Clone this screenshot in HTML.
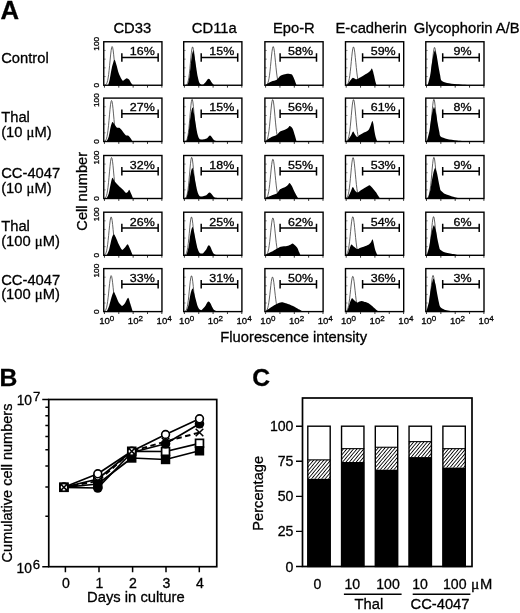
<!DOCTYPE html>
<html><head><meta charset="utf-8"><title>Figure</title>
<style>
html,body{margin:0;padding:0;background:#fff;}
svg{display:block;font-family:"Liberation Sans", sans-serif;fill:#000;}
text{stroke:#000;stroke-width:0.3px;}
</style></head><body>
<svg width="520" height="613" viewBox="0 0 520 613">
<rect width="520" height="613" fill="#fff"/>
<g id="panelA">
<g transform="translate(103.75 85.25)">
<path d="M1.36 -0.23 L1.86 -0.47 L2.36 -0.89 L2.86 -1.62 L3.36 -2.81 L3.86 -4.60 L4.36 -7.17 L4.86 -10.60 L5.36 -14.90 L5.86 -19.87 L6.36 -25.18 L6.86 -30.29 L7.36 -34.61 L7.86 -37.55 L8.36 -38.69 L8.86 -37.86 L9.36 -35.19 L9.86 -31.05 L10.36 -26.02 L10.86 -20.71 L11.36 -15.65 L11.86 -11.24 L12.36 -7.66 L12.86 -4.96 L13.36 -3.05 L13.86 -1.78 L14.36 -0.99 L14.86 -0.52 L15.36 -0.26" fill="none" stroke="#3a3a3a" stroke-width="0.8"/>
<path d="M4.40 0.00 C4.61 -0.80 5.52 -3.73 6.00 -6.00 C6.48 -8.27 7.39 -14.41 8.00 -17.00 C8.61 -19.59 10.00 -24.87 10.60 -25.40 C11.20 -25.93 11.91 -22.79 12.50 -21.00 C13.09 -19.21 14.17 -14.17 15.00 -12.00 C15.83 -9.83 17.95 -5.58 18.75 -4.75 C19.55 -3.92 20.43 -5.50 21.00 -5.80 C21.57 -6.10 22.40 -7.04 23.00 -7.00 C23.60 -6.96 24.90 -6.17 25.50 -5.50 C26.10 -4.83 26.98 -2.73 27.50 -2.00 C28.02 -1.27 29.15 -0.27 29.40 0.00 L29.40 0 L4.40 0 Z" fill="#000"/>
<rect x="0" y="-43.50" width="58.20" height="43.50" fill="none" stroke="#000" stroke-width="1.4"/>
<path d="M0.70 0.5V2.4 M15.05 0.5V2.4 M29.40 0.5V2.4 M43.75 0.5V2.4 M58.10 0.5V2.4" stroke="#000" stroke-width="0.8" fill="none"/>
<path d="M0 -8.70H2 M0 -17.40H2 M0 -26.10H2 M0 -34.80H2" stroke="#000" stroke-width="0.6" fill="none" opacity="0.7"/>
<path d="M18.10 -27.80H54.40 M18.10 -32.00V-23.60 M54.40 -32.00V-23.60" stroke="#000" stroke-width="1.5" fill="none"/>
<text transform="translate(38.55 -30.20) scale(1.085 1)" font-size="11.5" text-anchor="middle" stroke-width="0.4">16%</text>
</g>
<text transform="translate(99.10 43.80) rotate(-90) scale(1.13 1)" font-size="7.4" text-anchor="middle">100</text>
<text transform="translate(99.10 85.25) rotate(-90) scale(1.13 1)" font-size="7.4" text-anchor="middle">0</text>
<g transform="translate(183.70 85.25)">
<path d="M2.18 -0.23 L2.68 -0.48 L3.18 -0.94 L3.68 -1.75 L4.18 -3.07 L4.68 -5.10 L5.18 -8.00 L5.68 -11.85 L6.18 -16.60 L6.68 -21.96 L7.18 -27.46 L7.68 -32.44 L8.18 -36.21 L8.68 -38.19 L9.18 -38.06 L9.68 -35.84 L10.18 -31.89 L10.68 -26.81 L11.18 -21.30 L11.68 -15.99 L12.18 -11.34 L12.68 -7.60 L13.18 -4.81 L13.68 -2.88 L14.18 -1.63 L14.68 -0.87 L15.18 -0.44" fill="none" stroke="#3a3a3a" stroke-width="0.8"/>
<path d="M2.90 0.00 C3.09 -0.23 3.90 -0.44 4.30 -1.74 C4.70 -3.03 5.51 -7.00 5.90 -9.73 C6.29 -12.46 6.87 -19.41 7.20 -22.24 C7.53 -25.07 8.07 -29.26 8.40 -30.93 C8.73 -32.60 9.37 -35.07 9.70 -34.75 C10.03 -34.43 10.57 -30.49 10.90 -28.49 C11.23 -26.50 11.78 -22.47 12.20 -19.81 C12.62 -17.14 13.58 -10.84 14.05 -8.51 C14.52 -6.19 15.20 -3.45 15.70 -2.38 C16.20 -1.32 17.26 -0.71 17.80 -0.50 C18.34 -0.29 19.17 -0.38 19.78 -0.80 C20.39 -1.22 21.84 -2.94 22.39 -3.63 C22.95 -4.32 23.60 -5.54 23.96 -5.94 C24.32 -6.34 24.78 -6.64 25.10 -6.60 C25.42 -6.56 25.97 -6.09 26.34 -5.61 C26.70 -5.13 27.44 -3.65 27.86 -3.04 C28.27 -2.42 29.12 -1.39 29.47 -0.99 C29.82 -0.59 30.36 -0.13 30.50 0.00 L30.50 0 L2.90 0 Z" fill="#000"/>
<rect x="0" y="-43.50" width="58.20" height="43.50" fill="none" stroke="#000" stroke-width="1.4"/>
<path d="M0.70 0.5V2.4 M15.05 0.5V2.4 M29.40 0.5V2.4 M43.75 0.5V2.4 M58.10 0.5V2.4" stroke="#000" stroke-width="0.8" fill="none"/>
<path d="M0 -8.70H2 M0 -17.40H2 M0 -26.10H2 M0 -34.80H2" stroke="#000" stroke-width="0.6" fill="none" opacity="0.7"/>
<path d="M17.50 -27.80H54.00 M17.50 -32.00V-23.60 M54.00 -32.00V-23.60" stroke="#000" stroke-width="1.5" fill="none"/>
<text transform="translate(38.05 -30.20) scale(1.085 1)" font-size="11.5" text-anchor="middle" stroke-width="0.4">15%</text>
</g>
<g transform="translate(264.90 85.25)">
<path d="M1.10 -0.23 L1.60 -0.46 L2.10 -0.87 L2.60 -1.57 L3.10 -2.68 L3.60 -4.37 L4.10 -6.79 L4.60 -10.02 L5.10 -14.09 L5.60 -18.86 L6.10 -24.03 L6.60 -29.13 L7.10 -33.61 L7.60 -36.92 L8.10 -38.60 L8.60 -38.41 L9.10 -36.38 L9.60 -32.79 L10.10 -28.14 L10.60 -22.98 L11.10 -17.86 L11.60 -13.22 L12.10 -9.31 L12.60 -6.24 L13.10 -3.98 L13.60 -2.42 L14.10 -1.40 L14.60 -0.77 L15.10 -0.40" fill="none" stroke="#3a3a3a" stroke-width="0.8"/>
<path d="M0.80 0.00 C0.96 -0.16 1.23 -0.69 2.00 -1.20 C2.77 -1.71 5.29 -3.23 6.60 -3.80 C7.91 -4.37 10.65 -4.77 11.80 -5.50 C12.95 -6.23 14.37 -8.62 15.20 -9.30 C16.03 -9.98 17.08 -10.29 18.00 -10.60 C18.92 -10.91 21.17 -11.51 22.10 -11.60 C23.03 -11.69 24.35 -11.42 25.00 -11.30 C25.65 -11.18 26.47 -11.27 27.00 -10.70 C27.53 -10.13 28.37 -8.43 29.00 -7.00 C29.63 -5.57 31.34 -0.93 31.70 0.00 L31.70 0 L0.80 0 Z" fill="#000"/>
<rect x="0" y="-43.50" width="58.20" height="43.50" fill="none" stroke="#000" stroke-width="1.4"/>
<path d="M0.70 0.5V2.4 M15.05 0.5V2.4 M29.40 0.5V2.4 M43.75 0.5V2.4 M58.10 0.5V2.4" stroke="#000" stroke-width="0.8" fill="none"/>
<path d="M0 -8.70H2 M0 -17.40H2 M0 -26.10H2 M0 -34.80H2" stroke="#000" stroke-width="0.6" fill="none" opacity="0.7"/>
<path d="M15.20 -27.80H51.60 M15.20 -32.00V-23.60 M51.60 -32.00V-23.60" stroke="#000" stroke-width="1.5" fill="none"/>
<text transform="translate(35.70 -30.20) scale(1.085 1)" font-size="11.5" text-anchor="middle" stroke-width="0.4">58%</text>
</g>
<g transform="translate(345.50 85.25)">
<path d="M0.80 -0.23 L1.30 -0.46 L1.80 -0.86 L2.30 -1.55 L2.80 -2.66 L3.30 -4.33 L3.80 -6.73 L4.30 -9.93 L4.80 -13.97 L5.30 -18.69 L5.80 -23.81 L6.30 -28.86 L6.80 -33.31 L7.30 -36.59 L7.80 -38.25 L8.30 -38.06 L8.80 -36.05 L9.30 -32.50 L9.80 -27.88 L10.30 -22.77 L10.80 -17.70 L11.30 -13.10 L11.80 -9.22 L12.30 -6.18 L12.80 -3.95 L13.30 -2.40 L13.80 -1.38 L14.30 -0.76 L14.80 -0.40" fill="none" stroke="#3a3a3a" stroke-width="0.8"/>
<path d="M0.80 0.00 C1.03 -0.20 1.94 -0.83 2.50 -1.50 C3.06 -2.17 4.36 -4.19 5.00 -5.00 C5.64 -5.81 6.70 -7.40 7.30 -7.60 C7.90 -7.80 8.98 -6.73 9.50 -6.50 C10.02 -6.27 10.60 -5.77 11.20 -5.90 C11.80 -6.03 13.19 -7.05 14.00 -7.50 C14.81 -7.95 16.17 -8.63 17.30 -9.30 C18.43 -9.97 21.50 -11.81 22.50 -12.50 C23.50 -13.19 24.29 -13.93 24.80 -14.50 C25.31 -15.07 25.94 -16.87 26.30 -16.80 C26.66 -16.73 27.21 -14.92 27.50 -14.00 C27.79 -13.08 28.19 -11.23 28.50 -9.90 C28.81 -8.57 29.47 -5.32 29.80 -4.00 C30.13 -2.68 30.84 -0.53 31.00 0.00 L31.00 0 L0.80 0 Z" fill="#000"/>
<rect x="0" y="-43.50" width="58.20" height="43.50" fill="none" stroke="#000" stroke-width="1.4"/>
<path d="M0.70 0.5V2.4 M15.05 0.5V2.4 M29.40 0.5V2.4 M43.75 0.5V2.4 M58.10 0.5V2.4" stroke="#000" stroke-width="0.8" fill="none"/>
<path d="M0 -8.70H2 M0 -17.40H2 M0 -26.10H2 M0 -34.80H2" stroke="#000" stroke-width="0.6" fill="none" opacity="0.7"/>
<path d="M17.10 -27.80H53.75 M17.10 -32.00V-23.60 M53.75 -32.00V-23.60" stroke="#000" stroke-width="1.5" fill="none"/>
<text transform="translate(37.72 -30.20) scale(1.085 1)" font-size="11.5" text-anchor="middle" stroke-width="0.4">59%</text>
</g>
<g transform="translate(425.80 85.25)">
<path d="M2.03 -0.23 L2.53 -0.47 L3.03 -0.93 L3.53 -1.73 L4.03 -3.03 L4.53 -5.03 L5.03 -7.89 L5.53 -11.70 L6.03 -16.38 L6.53 -21.68 L7.03 -27.10 L7.53 -32.01 L8.03 -35.74 L8.53 -37.69 L9.03 -37.56 L9.53 -35.37 L10.03 -31.47 L10.53 -26.46 L11.03 -21.02 L11.53 -15.78 L12.03 -11.19 L12.53 -7.50 L13.03 -4.75 L13.53 -2.84 L14.03 -1.61 L14.53 -0.86 L15.03 -0.43" fill="none" stroke="#3a3a3a" stroke-width="0.8"/>
<path d="M1.90 0.00 C2.23 -1.30 3.91 -7.27 4.40 -9.73 C4.89 -12.19 5.22 -15.92 5.60 -18.42 C5.98 -20.92 6.78 -26.32 7.25 -28.49 C7.72 -30.67 8.59 -34.75 9.10 -34.75 C9.61 -34.75 10.61 -30.67 11.10 -28.49 C11.59 -26.32 12.31 -20.92 12.75 -18.42 C13.19 -15.92 14.02 -11.55 14.40 -9.73 C14.78 -7.91 14.69 -5.75 15.60 -4.75 C16.51 -3.75 19.16 -2.75 21.25 -2.25 C23.34 -1.75 27.95 -1.30 31.25 -1.00 C34.55 -0.70 44.03 -0.13 46.00 0.00 L46.00 0 L1.90 0 Z" fill="#000"/>
<rect x="0" y="-43.50" width="58.20" height="43.50" fill="none" stroke="#000" stroke-width="1.4"/>
<path d="M0.70 0.5V2.4 M15.05 0.5V2.4 M29.40 0.5V2.4 M43.75 0.5V2.4 M58.10 0.5V2.4" stroke="#000" stroke-width="0.8" fill="none"/>
<path d="M0 -8.70H2 M0 -17.40H2 M0 -26.10H2 M0 -34.80H2" stroke="#000" stroke-width="0.6" fill="none" opacity="0.7"/>
<path d="M16.90 -27.80H53.40 M16.90 -32.00V-23.60 M53.40 -32.00V-23.60" stroke="#000" stroke-width="1.5" fill="none"/>
<text transform="translate(36.65 -30.20) scale(1.085 1)" font-size="11.5" text-anchor="middle" stroke-width="0.4">9%</text>
</g>
<g transform="translate(103.75 141.50)">
<path d="M0.76 -0.25 L1.26 -0.49 L1.76 -0.95 L2.26 -1.72 L2.76 -2.97 L3.26 -4.88 L3.76 -7.59 L4.26 -11.23 L4.76 -15.78 L5.26 -21.05 L5.76 -26.67 L6.26 -32.09 L6.76 -36.67 L7.26 -39.78 L7.76 -40.99 L8.26 -40.11 L8.76 -37.28 L9.26 -32.90 L9.76 -27.57 L10.26 -21.94 L10.76 -16.58 L11.26 -11.90 L11.76 -8.11 L12.26 -5.25 L12.76 -3.23 L13.26 -1.88 L13.76 -1.04 L14.26 -0.55 L14.76 -0.28" fill="none" stroke="#3a3a3a" stroke-width="0.8"/>
<path d="M2.80 0.00 C3.09 -0.67 4.44 -3.00 5.00 -5.00 C5.56 -7.00 6.51 -13.07 7.00 -15.00 C7.49 -16.93 8.18 -19.17 8.65 -19.50 C9.12 -19.83 9.92 -18.23 10.50 -17.50 C11.08 -16.77 12.27 -14.53 13.00 -14.00 C13.73 -13.47 15.20 -14.03 16.00 -13.50 C16.80 -12.97 18.20 -10.97 19.00 -10.00 C19.80 -9.03 21.24 -6.77 22.00 -6.20 C22.76 -5.63 24.03 -6.13 24.70 -5.70 C25.37 -5.27 26.43 -3.76 27.00 -3.00 C27.57 -2.24 28.73 -0.40 29.00 0.00 L29.00 0 L2.80 0 Z" fill="#000"/>
<rect x="0" y="-43.40" width="58.20" height="43.40" fill="none" stroke="#000" stroke-width="1.4"/>
<path d="M0.70 0.5V2.4 M15.05 0.5V2.4 M29.40 0.5V2.4 M43.75 0.5V2.4 M58.10 0.5V2.4" stroke="#000" stroke-width="0.8" fill="none"/>
<path d="M0 -8.68H2 M0 -17.36H2 M0 -26.04H2 M0 -34.72H2" stroke="#000" stroke-width="0.6" fill="none" opacity="0.7"/>
<path d="M18.10 -27.70H54.40 M18.10 -31.90V-23.50 M54.40 -31.90V-23.50" stroke="#000" stroke-width="1.5" fill="none"/>
<text transform="translate(38.55 -30.10) scale(1.085 1)" font-size="11.5" text-anchor="middle" stroke-width="0.4">27%</text>
</g>
<text transform="translate(99.10 100.15) rotate(-90) scale(1.13 1)" font-size="7.4" text-anchor="middle">100</text>
<text transform="translate(99.10 141.50) rotate(-90) scale(1.13 1)" font-size="7.4" text-anchor="middle">0</text>
<g transform="translate(183.70 141.50)">
<path d="M1.68 -0.25 L2.18 -0.53 L2.68 -1.04 L3.18 -1.93 L3.68 -3.38 L4.18 -5.62 L4.68 -8.81 L5.18 -13.06 L5.68 -18.28 L6.18 -24.19 L6.68 -30.25 L7.18 -35.73 L7.68 -39.89 L8.18 -42.07 L8.68 -41.93 L9.18 -39.48 L9.68 -35.13 L10.18 -29.53 L10.68 -23.46 L11.18 -17.61 L11.68 -12.49 L12.18 -8.37 L12.68 -5.30 L13.18 -3.17 L13.68 -1.79 L14.18 -0.96 L14.68 -0.48" fill="none" stroke="#3a3a3a" stroke-width="0.8"/>
<path d="M1.92 0.00 C2.11 -0.23 2.91 -0.43 3.32 -1.70 C3.73 -2.97 4.60 -6.85 5.01 -9.52 C5.42 -12.19 6.03 -18.99 6.38 -21.76 C6.72 -24.53 7.29 -28.63 7.63 -30.26 C7.98 -31.89 8.65 -34.32 9.00 -34.00 C9.35 -33.68 9.91 -29.83 10.26 -27.88 C10.61 -25.93 11.18 -21.99 11.62 -19.38 C12.07 -16.77 13.08 -10.48 13.57 -8.33 C14.06 -6.18 14.83 -4.08 15.30 -3.24 C15.77 -2.40 16.38 -2.13 17.10 -2.00 C17.82 -1.87 19.85 -2.13 20.70 -2.30 C21.55 -2.47 22.86 -2.84 23.45 -3.25 C24.04 -3.65 24.72 -4.96 25.10 -5.31 C25.48 -5.66 25.97 -5.94 26.30 -5.90 C26.63 -5.86 27.21 -5.44 27.60 -5.02 C27.99 -4.59 28.76 -3.26 29.20 -2.71 C29.64 -2.16 30.26 -1.25 30.90 -0.89 C31.54 -0.52 33.59 -0.12 34.00 0.00 L34.00 0 L1.92 0 Z" fill="#000"/>
<rect x="0" y="-43.40" width="58.20" height="43.40" fill="none" stroke="#000" stroke-width="1.4"/>
<path d="M0.70 0.5V2.4 M15.05 0.5V2.4 M29.40 0.5V2.4 M43.75 0.5V2.4 M58.10 0.5V2.4" stroke="#000" stroke-width="0.8" fill="none"/>
<path d="M0 -8.68H2 M0 -17.36H2 M0 -26.04H2 M0 -34.72H2" stroke="#000" stroke-width="0.6" fill="none" opacity="0.7"/>
<path d="M17.50 -27.70H54.00 M17.50 -31.90V-23.50 M54.00 -31.90V-23.50" stroke="#000" stroke-width="1.5" fill="none"/>
<text transform="translate(38.05 -30.10) scale(1.085 1)" font-size="11.5" text-anchor="middle" stroke-width="0.4">15%</text>
</g>
<g transform="translate(264.90 141.50)">
<path d="M0.60 -0.25 L1.10 -0.50 L1.60 -0.94 L2.10 -1.70 L2.60 -2.91 L3.10 -4.74 L3.60 -7.36 L4.10 -10.87 L4.60 -15.28 L5.10 -20.44 L5.60 -26.04 L6.10 -31.57 L6.60 -36.43 L7.10 -40.02 L7.60 -41.83 L8.10 -41.63 L8.60 -39.43 L9.10 -35.54 L9.60 -30.50 L10.10 -24.91 L10.60 -19.36 L11.10 -14.33 L11.60 -10.09 L12.10 -6.76 L12.60 -4.32 L13.10 -2.62 L13.60 -1.51 L14.10 -0.83 L14.60 -0.44" fill="none" stroke="#3a3a3a" stroke-width="0.8"/>
<path d="M0.80 0.00 C0.96 -0.20 1.23 -0.90 2.00 -1.50 C2.77 -2.10 5.29 -3.82 6.60 -4.50 C7.91 -5.18 10.65 -5.87 11.80 -6.60 C12.95 -7.33 14.05 -9.28 15.20 -10.00 C16.35 -10.72 19.36 -11.53 20.40 -12.00 C21.44 -12.47 22.43 -13.02 23.00 -13.50 C23.57 -13.98 24.23 -15.47 24.70 -15.60 C25.17 -15.73 26.03 -15.01 26.50 -14.50 C26.97 -13.99 27.73 -12.93 28.20 -11.80 C28.67 -10.67 29.53 -7.57 30.00 -6.00 C30.47 -4.43 31.47 -0.80 31.70 0.00 L31.70 0 L0.80 0 Z" fill="#000"/>
<rect x="0" y="-43.40" width="58.20" height="43.40" fill="none" stroke="#000" stroke-width="1.4"/>
<path d="M0.70 0.5V2.4 M15.05 0.5V2.4 M29.40 0.5V2.4 M43.75 0.5V2.4 M58.10 0.5V2.4" stroke="#000" stroke-width="0.8" fill="none"/>
<path d="M0 -8.68H2 M0 -17.36H2 M0 -26.04H2 M0 -34.72H2" stroke="#000" stroke-width="0.6" fill="none" opacity="0.7"/>
<path d="M15.20 -27.70H51.60 M15.20 -31.90V-23.50 M51.60 -31.90V-23.50" stroke="#000" stroke-width="1.5" fill="none"/>
<text transform="translate(35.70 -30.10) scale(1.085 1)" font-size="11.5" text-anchor="middle" stroke-width="0.4">56%</text>
</g>
<g transform="translate(345.50 141.50)">
<path d="M0.80 -0.25 L1.30 -0.50 L1.80 -0.94 L2.30 -1.70 L2.80 -2.91 L3.30 -4.74 L3.80 -7.36 L4.30 -10.87 L4.80 -15.28 L5.30 -20.44 L5.80 -26.04 L6.30 -31.57 L6.80 -36.43 L7.30 -40.02 L7.80 -41.83 L8.30 -41.63 L8.80 -39.43 L9.30 -35.54 L9.80 -30.50 L10.30 -24.91 L10.80 -19.36 L11.30 -14.33 L11.80 -10.09 L12.30 -6.76 L12.80 -4.32 L13.30 -2.62 L13.80 -1.51 L14.30 -0.83 L14.80 -0.44" fill="none" stroke="#3a3a3a" stroke-width="0.8"/>
<path d="M0.80 0.00 C1.03 -0.20 1.87 -0.70 2.50 -1.50 C3.13 -2.30 4.82 -4.87 5.50 -6.00 C6.18 -7.13 7.07 -9.87 7.60 -10.00 C8.13 -10.13 8.94 -7.73 9.50 -7.00 C10.06 -6.27 11.20 -4.57 11.80 -4.50 C12.40 -4.43 13.27 -5.99 14.00 -6.50 C14.73 -7.01 16.17 -7.71 17.30 -8.30 C18.43 -8.89 21.47 -9.94 22.50 -10.90 C23.53 -11.86 24.43 -14.23 25.00 -15.50 C25.57 -16.77 26.40 -20.20 26.80 -20.40 C27.20 -20.60 27.71 -18.39 28.00 -17.00 C28.29 -15.61 28.69 -11.73 29.00 -10.00 C29.31 -8.27 29.94 -5.33 30.30 -4.00 C30.66 -2.67 31.51 -0.53 31.70 0.00 L31.70 0 L0.80 0 Z" fill="#000"/>
<rect x="0" y="-43.40" width="58.20" height="43.40" fill="none" stroke="#000" stroke-width="1.4"/>
<path d="M0.70 0.5V2.4 M15.05 0.5V2.4 M29.40 0.5V2.4 M43.75 0.5V2.4 M58.10 0.5V2.4" stroke="#000" stroke-width="0.8" fill="none"/>
<path d="M0 -8.68H2 M0 -17.36H2 M0 -26.04H2 M0 -34.72H2" stroke="#000" stroke-width="0.6" fill="none" opacity="0.7"/>
<path d="M17.10 -27.70H53.75 M17.10 -31.90V-23.50 M53.75 -31.90V-23.50" stroke="#000" stroke-width="1.5" fill="none"/>
<text transform="translate(37.72 -30.10) scale(1.085 1)" font-size="11.5" text-anchor="middle" stroke-width="0.4">61%</text>
</g>
<g transform="translate(425.80 141.50)">
<path d="M1.38 -0.25 L1.88 -0.53 L2.38 -1.04 L2.88 -1.93 L3.38 -3.38 L3.88 -5.62 L4.38 -8.81 L4.88 -13.06 L5.38 -18.28 L5.88 -24.19 L6.38 -30.25 L6.88 -35.73 L7.38 -39.89 L7.88 -42.07 L8.38 -41.93 L8.88 -39.48 L9.38 -35.13 L9.88 -29.53 L10.38 -23.46 L10.88 -17.61 L11.38 -12.49 L11.88 -8.37 L12.38 -5.30 L12.88 -3.17 L13.38 -1.79 L13.88 -0.96 L14.38 -0.48" fill="none" stroke="#3a3a3a" stroke-width="0.8"/>
<path d="M1.00 0.00 C1.33 -1.28 3.01 -7.20 3.50 -9.63 C3.99 -12.06 4.32 -15.76 4.70 -18.23 C5.08 -20.71 5.88 -26.05 6.35 -28.21 C6.82 -30.36 7.69 -34.40 8.20 -34.40 C8.71 -34.40 9.71 -30.36 10.20 -28.21 C10.69 -26.05 11.41 -20.71 11.85 -18.23 C12.29 -15.76 13.11 -11.41 13.50 -9.63 C13.89 -7.85 13.77 -5.85 14.80 -4.90 C15.83 -3.95 19.06 -3.02 21.25 -2.50 C23.44 -1.98 28.22 -1.33 31.25 -1.00 C34.28 -0.67 42.30 -0.13 44.00 0.00 L44.00 0 L1.00 0 Z" fill="#000"/>
<rect x="0" y="-43.40" width="58.20" height="43.40" fill="none" stroke="#000" stroke-width="1.4"/>
<path d="M0.70 0.5V2.4 M15.05 0.5V2.4 M29.40 0.5V2.4 M43.75 0.5V2.4 M58.10 0.5V2.4" stroke="#000" stroke-width="0.8" fill="none"/>
<path d="M0 -8.68H2 M0 -17.36H2 M0 -26.04H2 M0 -34.72H2" stroke="#000" stroke-width="0.6" fill="none" opacity="0.7"/>
<path d="M16.90 -27.70H53.40 M16.90 -31.90V-23.50 M53.40 -31.90V-23.50" stroke="#000" stroke-width="1.5" fill="none"/>
<text transform="translate(36.65 -30.10) scale(1.085 1)" font-size="11.5" text-anchor="middle" stroke-width="0.4">8%</text>
</g>
<g transform="translate(103.75 198.50)">
<path d="M0.76 -0.25 L1.26 -0.49 L1.76 -0.95 L2.26 -1.72 L2.76 -2.97 L3.26 -4.88 L3.76 -7.59 L4.26 -11.23 L4.76 -15.78 L5.26 -21.05 L5.76 -26.67 L6.26 -32.09 L6.76 -36.67 L7.26 -39.78 L7.76 -40.99 L8.26 -40.11 L8.76 -37.28 L9.26 -32.90 L9.76 -27.57 L10.26 -21.94 L10.76 -16.58 L11.26 -11.90 L11.76 -8.11 L12.26 -5.25 L12.76 -3.23 L13.26 -1.88 L13.76 -1.04 L14.26 -0.55 L14.76 -0.28" fill="none" stroke="#3a3a3a" stroke-width="0.8"/>
<path d="M2.80 0.00 C3.09 -0.67 4.44 -3.00 5.00 -5.00 C5.56 -7.00 6.51 -12.89 7.00 -15.00 C7.49 -17.11 8.12 -20.53 8.65 -20.80 C9.18 -21.07 10.13 -18.09 11.00 -17.00 C11.87 -15.91 14.13 -13.67 15.20 -12.60 C16.27 -11.53 18.09 -9.92 19.00 -9.00 C19.91 -8.08 21.33 -6.03 22.00 -5.70 C22.67 -5.37 23.52 -6.11 24.00 -6.50 C24.48 -6.89 25.13 -8.87 25.60 -8.60 C26.07 -8.33 26.99 -5.65 27.50 -4.50 C28.01 -3.35 29.15 -0.60 29.40 0.00 L29.40 0 L2.80 0 Z" fill="#000"/>
<rect x="0" y="-43.00" width="58.20" height="43.00" fill="none" stroke="#000" stroke-width="1.4"/>
<path d="M0.70 0.5V2.4 M15.05 0.5V2.4 M29.40 0.5V2.4 M43.75 0.5V2.4 M58.10 0.5V2.4" stroke="#000" stroke-width="0.8" fill="none"/>
<path d="M0 -8.60H2 M0 -17.20H2 M0 -25.80H2 M0 -34.40H2" stroke="#000" stroke-width="0.6" fill="none" opacity="0.7"/>
<path d="M18.10 -27.30H54.40 M18.10 -31.50V-23.10 M54.40 -31.50V-23.10" stroke="#000" stroke-width="1.5" fill="none"/>
<text transform="translate(38.55 -29.70) scale(1.085 1)" font-size="11.5" text-anchor="middle" stroke-width="0.4">32%</text>
</g>
<text transform="translate(99.10 157.55) rotate(-90) scale(1.13 1)" font-size="7.4" text-anchor="middle">100</text>
<text transform="translate(99.10 198.50) rotate(-90) scale(1.13 1)" font-size="7.4" text-anchor="middle">0</text>
<g transform="translate(183.70 198.50)">
<path d="M1.28 -0.25 L1.78 -0.51 L2.28 -1.01 L2.78 -1.88 L3.28 -3.30 L3.78 -5.48 L4.28 -8.59 L4.78 -12.73 L5.28 -17.83 L5.78 -23.59 L6.28 -29.50 L6.78 -34.84 L7.28 -38.90 L7.78 -41.02 L8.28 -40.88 L8.78 -38.50 L9.28 -34.26 L9.78 -28.80 L10.28 -22.88 L10.78 -17.17 L11.28 -12.18 L11.78 -8.16 L12.28 -5.17 L12.78 -3.09 L13.28 -1.75 L13.78 -0.93 L14.28 -0.47" fill="none" stroke="#3a3a3a" stroke-width="0.8"/>
<path d="M1.44 0.00 C1.63 -0.20 2.42 -0.39 2.84 -1.53 C3.26 -2.67 4.19 -6.16 4.62 -8.57 C5.05 -10.98 5.68 -17.10 6.05 -19.58 C6.42 -22.07 7.00 -25.77 7.37 -27.23 C7.74 -28.70 8.43 -30.89 8.80 -30.60 C9.17 -30.31 9.75 -26.85 10.12 -25.09 C10.49 -23.34 11.09 -19.79 11.55 -17.44 C12.01 -15.10 13.07 -9.42 13.59 -7.50 C14.10 -5.58 14.96 -3.77 15.40 -3.04 C15.84 -2.30 16.36 -2.10 16.90 -2.00 C17.44 -1.90 18.70 -2.13 19.46 -2.30 C20.22 -2.47 21.95 -2.84 22.62 -3.25 C23.30 -3.65 24.08 -4.96 24.52 -5.31 C24.96 -5.66 25.52 -5.94 25.90 -5.90 C26.28 -5.86 26.95 -5.44 27.39 -5.02 C27.84 -4.59 28.73 -3.26 29.23 -2.71 C29.74 -2.16 30.09 -1.25 31.19 -0.89 C32.29 -0.52 36.66 -0.12 37.50 0.00 L37.50 0 L1.44 0 Z" fill="#000"/>
<rect x="0" y="-43.00" width="58.20" height="43.00" fill="none" stroke="#000" stroke-width="1.4"/>
<path d="M0.70 0.5V2.4 M15.05 0.5V2.4 M29.40 0.5V2.4 M43.75 0.5V2.4 M58.10 0.5V2.4" stroke="#000" stroke-width="0.8" fill="none"/>
<path d="M0 -8.60H2 M0 -17.20H2 M0 -25.80H2 M0 -34.40H2" stroke="#000" stroke-width="0.6" fill="none" opacity="0.7"/>
<path d="M17.50 -27.30H54.00 M17.50 -31.50V-23.10 M54.00 -31.50V-23.10" stroke="#000" stroke-width="1.5" fill="none"/>
<text transform="translate(38.05 -29.70) scale(1.085 1)" font-size="11.5" text-anchor="middle" stroke-width="0.4">18%</text>
</g>
<g transform="translate(264.90 198.50)">
<path d="M0.80 -0.23 L1.30 -0.47 L1.80 -0.88 L2.30 -1.59 L2.80 -2.72 L3.30 -4.43 L3.80 -6.88 L4.30 -10.17 L4.80 -14.29 L5.30 -19.13 L5.80 -24.37 L6.30 -29.54 L6.80 -34.09 L7.30 -37.44 L7.80 -39.15 L8.30 -38.95 L8.80 -36.89 L9.30 -33.26 L9.80 -28.54 L10.30 -23.31 L10.80 -18.12 L11.30 -13.41 L11.80 -9.44 L12.30 -6.33 L12.80 -4.04 L13.30 -2.45 L13.80 -1.42 L14.30 -0.78 L14.80 -0.41" fill="none" stroke="#3a3a3a" stroke-width="0.8"/>
<path d="M0.80 0.00 C0.96 -0.16 1.23 -0.80 2.00 -1.20 C2.77 -1.60 5.29 -2.49 6.60 -3.00 C7.91 -3.51 10.65 -4.16 11.80 -5.00 C12.95 -5.84 14.05 -8.42 15.20 -9.30 C16.35 -10.18 19.36 -11.04 20.40 -11.60 C21.44 -12.16 22.43 -12.97 23.00 -13.50 C23.57 -14.03 24.17 -15.73 24.70 -15.60 C25.23 -15.47 26.43 -13.51 27.00 -12.50 C27.57 -11.49 28.47 -9.13 29.00 -8.00 C29.53 -6.87 30.41 -5.07 31.00 -4.00 C31.59 -2.93 33.08 -0.53 33.40 0.00 L33.40 0 L0.80 0 Z" fill="#000"/>
<rect x="0" y="-43.00" width="58.20" height="43.00" fill="none" stroke="#000" stroke-width="1.4"/>
<path d="M0.70 0.5V2.4 M15.05 0.5V2.4 M29.40 0.5V2.4 M43.75 0.5V2.4 M58.10 0.5V2.4" stroke="#000" stroke-width="0.8" fill="none"/>
<path d="M0 -8.60H2 M0 -17.20H2 M0 -25.80H2 M0 -34.40H2" stroke="#000" stroke-width="0.6" fill="none" opacity="0.7"/>
<path d="M15.20 -27.30H51.60 M15.20 -31.50V-23.10 M51.60 -31.50V-23.10" stroke="#000" stroke-width="1.5" fill="none"/>
<text transform="translate(35.70 -29.70) scale(1.085 1)" font-size="11.5" text-anchor="middle" stroke-width="0.4">55%</text>
</g>
<g transform="translate(345.50 198.50)">
<path d="M0.40 -0.25 L0.90 -0.49 L1.40 -0.92 L1.90 -1.66 L2.40 -2.84 L2.90 -4.63 L3.40 -7.18 L3.90 -10.61 L4.40 -14.91 L4.90 -19.96 L5.40 -25.42 L5.90 -30.82 L6.40 -35.56 L6.90 -39.06 L7.40 -40.84 L7.90 -40.64 L8.40 -38.49 L8.90 -34.70 L9.40 -29.77 L9.90 -24.32 L10.40 -18.90 L10.90 -13.99 L11.40 -9.85 L11.90 -6.60 L12.40 -4.21 L12.90 -2.56 L13.40 -1.48 L13.90 -0.81 L14.40 -0.43" fill="none" stroke="#3a3a3a" stroke-width="0.8"/>
<path d="M0.80 0.00 C1.03 -0.20 1.90 -0.57 2.50 -1.50 C3.10 -2.43 4.66 -5.65 5.30 -7.00 C5.94 -8.35 6.74 -11.47 7.30 -11.60 C7.86 -11.73 8.86 -8.76 9.50 -8.00 C10.14 -7.24 11.37 -5.90 12.10 -5.90 C12.83 -5.90 14.19 -7.47 15.00 -8.00 C15.81 -8.53 17.33 -9.37 18.20 -9.90 C19.07 -10.43 20.70 -11.55 21.50 -12.00 C22.30 -12.45 23.47 -13.50 24.20 -13.30 C24.93 -13.10 26.19 -11.42 27.00 -10.50 C27.81 -9.58 29.57 -7.40 30.30 -6.40 C31.03 -5.40 31.93 -3.85 32.50 -3.00 C33.07 -2.15 34.32 -0.40 34.60 0.00 L34.60 0 L0.80 0 Z" fill="#000"/>
<rect x="0" y="-43.00" width="58.20" height="43.00" fill="none" stroke="#000" stroke-width="1.4"/>
<path d="M0.70 0.5V2.4 M15.05 0.5V2.4 M29.40 0.5V2.4 M43.75 0.5V2.4 M58.10 0.5V2.4" stroke="#000" stroke-width="0.8" fill="none"/>
<path d="M0 -8.60H2 M0 -17.20H2 M0 -25.80H2 M0 -34.40H2" stroke="#000" stroke-width="0.6" fill="none" opacity="0.7"/>
<path d="M17.10 -27.30H53.75 M17.10 -31.50V-23.10 M53.75 -31.50V-23.10" stroke="#000" stroke-width="1.5" fill="none"/>
<text transform="translate(37.72 -29.70) scale(1.085 1)" font-size="11.5" text-anchor="middle" stroke-width="0.4">53%</text>
</g>
<g transform="translate(425.80 198.50)">
<path d="M1.38 -0.25 L1.88 -0.51 L2.38 -1.01 L2.88 -1.88 L3.38 -3.30 L3.88 -5.48 L4.38 -8.59 L4.88 -12.73 L5.38 -17.83 L5.88 -23.59 L6.38 -29.50 L6.88 -34.84 L7.38 -38.90 L7.88 -41.02 L8.38 -40.88 L8.88 -38.50 L9.38 -34.26 L9.88 -28.80 L10.38 -22.88 L10.88 -17.17 L11.38 -12.18 L11.88 -8.16 L12.38 -5.17 L12.88 -3.09 L13.38 -1.75 L13.88 -0.93 L14.38 -0.47" fill="none" stroke="#3a3a3a" stroke-width="0.8"/>
<path d="M2.10 0.00 C2.43 -1.14 4.11 -6.41 4.60 -8.57 C5.09 -10.73 5.42 -14.01 5.80 -16.22 C6.18 -18.42 6.98 -23.17 7.45 -25.09 C7.92 -27.01 8.79 -30.60 9.30 -30.60 C9.81 -30.60 10.81 -27.01 11.30 -25.09 C11.79 -23.17 12.51 -18.42 12.95 -16.22 C13.39 -14.01 14.33 -9.65 14.60 -8.57 C14.87 -7.49 14.36 -8.66 15.00 -8.10 C15.64 -7.54 18.07 -5.15 19.40 -4.40 C20.73 -3.65 23.59 -2.97 25.00 -2.50 C26.41 -2.03 28.83 -1.23 30.00 -0.90 C31.17 -0.57 33.25 -0.12 33.75 0.00 L33.75 0 L2.10 0 Z" fill="#000"/>
<rect x="0" y="-43.00" width="58.20" height="43.00" fill="none" stroke="#000" stroke-width="1.4"/>
<path d="M0.70 0.5V2.4 M15.05 0.5V2.4 M29.40 0.5V2.4 M43.75 0.5V2.4 M58.10 0.5V2.4" stroke="#000" stroke-width="0.8" fill="none"/>
<path d="M0 -8.60H2 M0 -17.20H2 M0 -25.80H2 M0 -34.40H2" stroke="#000" stroke-width="0.6" fill="none" opacity="0.7"/>
<path d="M16.90 -27.30H53.40 M16.90 -31.50V-23.10 M53.40 -31.50V-23.10" stroke="#000" stroke-width="1.5" fill="none"/>
<text transform="translate(36.65 -29.70) scale(1.085 1)" font-size="11.5" text-anchor="middle" stroke-width="0.4">9%</text>
</g>
<g transform="translate(103.75 255.30)">
<path d="M0.36 -0.23 L0.86 -0.46 L1.36 -0.89 L1.86 -1.61 L2.36 -2.78 L2.86 -4.57 L3.36 -7.11 L3.86 -10.52 L4.36 -14.78 L4.86 -19.72 L5.36 -24.98 L5.86 -30.06 L6.36 -34.34 L6.86 -37.26 L7.36 -38.39 L7.86 -37.57 L8.36 -34.91 L8.86 -30.81 L9.36 -25.82 L9.86 -20.55 L10.36 -15.53 L10.86 -11.15 L11.36 -7.60 L11.86 -4.92 L12.36 -3.02 L12.86 -1.77 L13.36 -0.98 L13.86 -0.52 L14.36 -0.26" fill="none" stroke="#3a3a3a" stroke-width="0.8"/>
<path d="M3.00 0.00 C3.33 -0.80 4.83 -3.73 5.50 -6.00 C6.17 -8.27 7.40 -15.00 8.00 -17.00 C8.60 -19.00 9.47 -20.87 10.00 -21.00 C10.53 -21.13 11.33 -19.33 12.00 -18.00 C12.67 -16.67 14.16 -12.67 15.00 -11.00 C15.84 -9.33 17.50 -5.97 18.30 -5.50 C19.10 -5.03 20.25 -6.77 21.00 -7.50 C21.75 -8.23 23.23 -11.07 23.90 -11.00 C24.57 -10.93 25.32 -8.47 26.00 -7.00 C26.68 -5.53 28.60 -0.93 29.00 0.00 L29.00 0 L3.00 0 Z" fill="#000"/>
<rect x="0" y="-43.10" width="58.20" height="43.10" fill="none" stroke="#000" stroke-width="1.4"/>
<path d="M0.70 0.5V2.4 M15.05 0.5V2.4 M29.40 0.5V2.4 M43.75 0.5V2.4 M58.10 0.5V2.4" stroke="#000" stroke-width="0.8" fill="none"/>
<path d="M0 -8.62H2 M0 -17.24H2 M0 -25.86H2 M0 -34.48H2" stroke="#000" stroke-width="0.6" fill="none" opacity="0.7"/>
<path d="M18.10 -27.40H54.40 M18.10 -31.60V-23.20 M54.40 -31.60V-23.20" stroke="#000" stroke-width="1.5" fill="none"/>
<text transform="translate(38.55 -29.80) scale(1.085 1)" font-size="11.5" text-anchor="middle" stroke-width="0.4">26%</text>
</g>
<text transform="translate(99.10 214.25) rotate(-90) scale(1.13 1)" font-size="7.4" text-anchor="middle">100</text>
<text transform="translate(99.10 255.30) rotate(-90) scale(1.13 1)" font-size="7.4" text-anchor="middle">0</text>
<g transform="translate(183.70 255.30)">
<path d="M1.08 -0.23 L1.58 -0.48 L2.08 -0.94 L2.58 -1.75 L3.08 -3.07 L3.58 -5.10 L4.08 -8.00 L4.58 -11.85 L5.08 -16.60 L5.58 -21.96 L6.08 -27.46 L6.58 -32.44 L7.08 -36.21 L7.58 -38.19 L8.08 -38.06 L8.58 -35.84 L9.08 -31.89 L9.58 -26.81 L10.08 -21.30 L10.58 -15.99 L11.08 -11.34 L11.58 -7.60 L12.08 -4.81 L12.58 -2.88 L13.08 -1.63 L13.58 -0.87 L14.08 -0.44" fill="none" stroke="#3a3a3a" stroke-width="0.8"/>
<path d="M1.64 0.00 C1.83 -0.19 2.62 -0.36 3.04 -1.42 C3.46 -2.48 4.39 -5.72 4.82 -7.95 C5.25 -10.19 5.88 -15.87 6.25 -18.18 C6.62 -20.49 7.20 -23.91 7.57 -25.28 C7.94 -26.64 8.63 -28.67 9.00 -28.40 C9.37 -28.13 9.95 -24.92 10.32 -23.29 C10.69 -21.66 11.29 -18.37 11.75 -16.19 C12.21 -14.01 13.27 -8.75 13.79 -6.96 C14.30 -5.17 15.16 -3.47 15.60 -2.78 C16.04 -2.10 16.59 -1.89 17.10 -1.80 C17.61 -1.71 18.73 -1.61 19.42 -2.10 C20.11 -2.59 21.69 -4.58 22.31 -5.50 C22.92 -6.42 23.64 -8.40 24.04 -9.00 C24.44 -9.60 24.95 -10.07 25.30 -10.00 C25.65 -9.93 26.26 -9.22 26.66 -8.50 C27.07 -7.78 27.88 -5.53 28.34 -4.60 C28.81 -3.67 29.51 -2.11 30.13 -1.50 C30.75 -0.89 32.62 -0.20 33.00 0.00 L33.00 0 L1.64 0 Z" fill="#000"/>
<rect x="0" y="-43.10" width="58.20" height="43.10" fill="none" stroke="#000" stroke-width="1.4"/>
<path d="M0.70 0.5V2.4 M15.05 0.5V2.4 M29.40 0.5V2.4 M43.75 0.5V2.4 M58.10 0.5V2.4" stroke="#000" stroke-width="0.8" fill="none"/>
<path d="M0 -8.62H2 M0 -17.24H2 M0 -25.86H2 M0 -34.48H2" stroke="#000" stroke-width="0.6" fill="none" opacity="0.7"/>
<path d="M17.50 -27.40H54.00 M17.50 -31.60V-23.20 M54.00 -31.60V-23.20" stroke="#000" stroke-width="1.5" fill="none"/>
<text transform="translate(38.05 -29.80) scale(1.085 1)" font-size="11.5" text-anchor="middle" stroke-width="0.4">25%</text>
</g>
<g transform="translate(264.90 255.30)">
<path d="M0.80 -0.22 L1.30 -0.44 L1.80 -0.84 L2.30 -1.51 L2.80 -2.59 L3.30 -4.22 L3.80 -6.55 L4.30 -9.68 L4.80 -13.60 L5.30 -18.20 L5.80 -23.19 L6.30 -28.11 L6.80 -32.44 L7.30 -35.63 L7.80 -37.25 L8.30 -37.07 L8.80 -35.11 L9.30 -31.65 L9.80 -27.16 L10.30 -22.18 L10.80 -17.24 L11.30 -12.76 L11.80 -8.98 L12.30 -6.02 L12.80 -3.84 L13.30 -2.33 L13.80 -1.35 L14.30 -0.74 L14.80 -0.39" fill="none" stroke="#3a3a3a" stroke-width="0.8"/>
<path d="M0.80 0.00 C0.96 -0.16 1.23 -0.73 2.00 -1.20 C2.77 -1.67 5.29 -2.78 6.60 -3.50 C7.91 -4.22 10.55 -5.92 11.80 -6.60 C13.05 -7.28 14.63 -8.25 16.00 -8.60 C17.37 -8.95 20.83 -8.95 22.10 -9.20 C23.37 -9.45 24.75 -10.15 25.50 -10.50 C26.25 -10.85 27.10 -11.87 27.70 -11.80 C28.30 -11.73 29.36 -10.59 30.00 -10.00 C30.64 -9.41 31.93 -8.33 32.50 -7.40 C33.07 -6.47 33.89 -3.99 34.30 -3.00 C34.71 -2.01 35.43 -0.40 35.60 0.00 L35.60 0 L0.80 0 Z" fill="#000"/>
<rect x="0" y="-43.10" width="58.20" height="43.10" fill="none" stroke="#000" stroke-width="1.4"/>
<path d="M0.70 0.5V2.4 M15.05 0.5V2.4 M29.40 0.5V2.4 M43.75 0.5V2.4 M58.10 0.5V2.4" stroke="#000" stroke-width="0.8" fill="none"/>
<path d="M0 -8.62H2 M0 -17.24H2 M0 -25.86H2 M0 -34.48H2" stroke="#000" stroke-width="0.6" fill="none" opacity="0.7"/>
<path d="M15.20 -27.40H51.60 M15.20 -31.60V-23.20 M51.60 -31.60V-23.20" stroke="#000" stroke-width="1.5" fill="none"/>
<text transform="translate(35.70 -29.80) scale(1.085 1)" font-size="11.5" text-anchor="middle" stroke-width="0.4">62%</text>
</g>
<g transform="translate(345.50 255.30)">
<path d="M0.10 -0.23 L0.60 -0.46 L1.10 -0.87 L1.60 -1.56 L2.10 -2.67 L2.60 -4.36 L3.10 -6.76 L3.60 -9.99 L4.10 -14.04 L4.60 -18.79 L5.10 -23.93 L5.60 -29.02 L6.10 -33.48 L6.60 -36.78 L7.10 -38.45 L7.60 -38.26 L8.10 -36.24 L8.60 -32.67 L9.10 -28.03 L9.60 -22.89 L10.10 -17.80 L10.60 -13.17 L11.10 -9.27 L11.60 -6.22 L12.10 -3.97 L12.60 -2.41 L13.10 -1.39 L13.60 -0.77 L14.10 -0.40" fill="none" stroke="#3a3a3a" stroke-width="0.8"/>
<path d="M0.80 0.00 C1.03 -0.27 2.01 -0.93 2.50 -2.00 C2.99 -3.07 4.03 -6.81 4.50 -8.00 C4.97 -9.19 5.47 -10.83 6.00 -10.90 C6.53 -10.97 7.73 -9.13 8.50 -8.50 C9.27 -7.87 10.93 -6.33 11.80 -6.20 C12.67 -6.07 14.15 -7.18 15.00 -7.50 C15.85 -7.82 17.08 -8.15 18.20 -8.60 C19.32 -9.05 22.43 -10.31 23.40 -10.90 C24.37 -11.49 25.02 -12.32 25.50 -13.00 C25.98 -13.68 26.64 -16.13 27.00 -16.00 C27.36 -15.87 27.88 -13.25 28.20 -12.00 C28.52 -10.75 29.08 -7.80 29.40 -6.60 C29.72 -5.40 30.25 -3.88 30.60 -3.00 C30.95 -2.12 31.81 -0.40 32.00 0.00 L32.00 0 L0.80 0 Z" fill="#000"/>
<rect x="0" y="-43.10" width="58.20" height="43.10" fill="none" stroke="#000" stroke-width="1.4"/>
<path d="M0.70 0.5V2.4 M15.05 0.5V2.4 M29.40 0.5V2.4 M43.75 0.5V2.4 M58.10 0.5V2.4" stroke="#000" stroke-width="0.8" fill="none"/>
<path d="M0 -8.62H2 M0 -17.24H2 M0 -25.86H2 M0 -34.48H2" stroke="#000" stroke-width="0.6" fill="none" opacity="0.7"/>
<path d="M17.10 -27.40H53.75 M17.10 -31.60V-23.20 M53.75 -31.60V-23.20" stroke="#000" stroke-width="1.5" fill="none"/>
<text transform="translate(37.72 -29.80) scale(1.085 1)" font-size="11.5" text-anchor="middle" stroke-width="0.4">54%</text>
</g>
<g transform="translate(425.80 255.30)">
<path d="M1.03 -0.23 L1.53 -0.48 L2.03 -0.95 L2.53 -1.76 L3.03 -3.10 L3.53 -5.15 L4.03 -8.07 L4.53 -11.96 L5.03 -16.75 L5.53 -22.16 L6.03 -27.71 L6.53 -32.73 L7.03 -36.54 L7.53 -38.54 L8.03 -38.41 L8.53 -36.17 L9.03 -32.18 L9.53 -27.06 L10.03 -21.49 L10.53 -16.13 L11.03 -11.44 L11.53 -7.67 L12.03 -4.86 L12.53 -2.91 L13.03 -1.64 L13.53 -0.88 L14.03 -0.44" fill="none" stroke="#3a3a3a" stroke-width="0.8"/>
<path d="M0.90 0.00 C1.23 -1.12 2.91 -6.28 3.40 -8.40 C3.89 -10.52 4.22 -13.74 4.60 -15.90 C4.98 -18.06 5.78 -22.72 6.25 -24.60 C6.72 -26.48 7.59 -30.00 8.10 -30.00 C8.61 -30.00 9.61 -26.48 10.10 -24.60 C10.59 -22.72 11.31 -18.06 11.75 -15.90 C12.19 -13.74 13.03 -9.79 13.40 -8.40 C13.77 -7.01 13.79 -6.21 14.50 -5.50 C15.21 -4.79 17.02 -3.67 18.75 -3.10 C20.48 -2.53 25.67 -1.66 27.50 -1.25 C29.33 -0.84 31.83 -0.17 32.50 0.00 L32.50 0 L0.90 0 Z" fill="#000"/>
<rect x="0" y="-43.10" width="58.20" height="43.10" fill="none" stroke="#000" stroke-width="1.4"/>
<path d="M0.70 0.5V2.4 M15.05 0.5V2.4 M29.40 0.5V2.4 M43.75 0.5V2.4 M58.10 0.5V2.4" stroke="#000" stroke-width="0.8" fill="none"/>
<path d="M0 -8.62H2 M0 -17.24H2 M0 -25.86H2 M0 -34.48H2" stroke="#000" stroke-width="0.6" fill="none" opacity="0.7"/>
<path d="M16.90 -27.40H53.40 M16.90 -31.60V-23.20 M53.40 -31.60V-23.20" stroke="#000" stroke-width="1.5" fill="none"/>
<text transform="translate(36.65 -29.80) scale(1.085 1)" font-size="11.5" text-anchor="middle" stroke-width="0.4">6%</text>
</g>
<g transform="translate(103.75 311.60)">
<path d="M0.36 -0.22 L0.86 -0.43 L1.36 -0.83 L1.86 -1.51 L2.36 -2.61 L2.86 -4.28 L3.36 -6.67 L3.86 -9.86 L4.36 -13.86 L4.86 -18.49 L5.36 -23.42 L5.86 -28.18 L6.36 -32.19 L6.86 -34.93 L7.36 -35.99 L7.86 -35.22 L8.36 -32.73 L8.86 -28.88 L9.36 -24.21 L9.86 -19.27 L10.36 -14.56 L10.86 -10.45 L11.36 -7.12 L11.86 -4.61 L12.36 -2.83 L12.86 -1.66 L13.36 -0.92 L13.86 -0.48 L14.36 -0.24" fill="none" stroke="#3a3a3a" stroke-width="0.8"/>
<path d="M3.00 0.00 C3.33 -0.80 4.83 -4.00 5.50 -6.00 C6.17 -8.00 7.40 -13.20 8.00 -15.00 C8.60 -16.80 9.47 -19.37 10.00 -19.50 C10.53 -19.63 11.33 -17.40 12.00 -16.00 C12.67 -14.60 14.16 -10.37 15.00 -9.00 C15.84 -7.63 17.50 -5.83 18.30 -5.70 C19.10 -5.57 20.19 -6.92 21.00 -8.00 C21.81 -9.08 23.67 -13.80 24.40 -13.80 C25.13 -13.80 25.89 -9.84 26.50 -8.00 C27.11 -6.16 28.67 -1.07 29.00 0.00 L29.00 0 L3.00 0 Z" fill="#000"/>
<rect x="0" y="-43.00" width="58.20" height="43.00" fill="none" stroke="#000" stroke-width="1.4"/>
<path d="M0.70 0.5V2.4 M15.05 0.5V2.4 M29.40 0.5V2.4 M43.75 0.5V2.4 M58.10 0.5V2.4" stroke="#000" stroke-width="0.8" fill="none"/>
<path d="M0 -8.60H2 M0 -17.20H2 M0 -25.80H2 M0 -34.40H2" stroke="#000" stroke-width="0.6" fill="none" opacity="0.7"/>
<path d="M18.10 -27.30H54.40 M18.10 -31.50V-23.10 M54.40 -31.50V-23.10" stroke="#000" stroke-width="1.5" fill="none"/>
<text transform="translate(38.55 -29.70) scale(1.085 1)" font-size="11.5" text-anchor="middle" stroke-width="0.4">33%</text>
</g>
<text transform="translate(99.10 270.65) rotate(-90) scale(1.13 1)" font-size="7.4" text-anchor="middle">100</text>
<text transform="translate(99.10 311.60) rotate(-90) scale(1.13 1)" font-size="7.4" text-anchor="middle">0</text>
<g transform="translate(183.70 311.60)">
<path d="M1.08 -0.21 L1.58 -0.45 L2.08 -0.88 L2.58 -1.63 L3.08 -2.87 L3.58 -4.77 L4.08 -7.48 L4.58 -11.08 L5.08 -15.52 L5.58 -20.53 L6.08 -25.67 L6.58 -30.33 L7.08 -33.85 L7.58 -35.70 L8.08 -35.58 L8.58 -33.51 L9.08 -29.81 L9.58 -25.07 L10.08 -19.91 L10.58 -14.95 L11.08 -10.60 L11.58 -7.10 L12.08 -4.50 L12.58 -2.69 L13.08 -1.52 L13.58 -0.81 L14.08 -0.41" fill="none" stroke="#3a3a3a" stroke-width="0.8"/>
<path d="M1.53 0.00 C1.71 -0.15 2.50 -0.29 2.93 -1.15 C3.36 -2.01 4.31 -4.63 4.74 -6.44 C5.18 -8.25 5.83 -12.85 6.20 -14.72 C6.57 -16.59 7.17 -19.37 7.54 -20.47 C7.92 -21.57 8.63 -23.21 9.00 -23.00 C9.37 -22.79 9.97 -20.18 10.34 -18.86 C10.72 -17.54 11.33 -14.87 11.80 -13.11 C12.27 -11.35 13.35 -7.08 13.87 -5.63 C14.39 -4.19 15.29 -2.83 15.72 -2.28 C16.15 -1.73 16.76 -1.56 17.10 -1.50 C17.44 -1.44 17.68 -1.27 18.28 -1.80 C18.88 -2.33 20.88 -4.54 21.58 -5.50 C22.28 -6.46 23.10 -8.40 23.56 -9.00 C24.02 -9.60 24.60 -10.07 25.00 -10.00 C25.40 -9.93 26.10 -9.22 26.56 -8.50 C27.02 -7.78 27.95 -5.53 28.48 -4.60 C29.01 -3.67 29.78 -2.11 30.52 -1.50 C31.26 -0.89 33.54 -0.20 34.00 0.00 L34.00 0 L1.53 0 Z" fill="#000"/>
<rect x="0" y="-43.00" width="58.20" height="43.00" fill="none" stroke="#000" stroke-width="1.4"/>
<path d="M0.70 0.5V2.4 M15.05 0.5V2.4 M29.40 0.5V2.4 M43.75 0.5V2.4 M58.10 0.5V2.4" stroke="#000" stroke-width="0.8" fill="none"/>
<path d="M0 -8.60H2 M0 -17.20H2 M0 -25.80H2 M0 -34.40H2" stroke="#000" stroke-width="0.6" fill="none" opacity="0.7"/>
<path d="M17.50 -27.30H54.00 M17.50 -31.50V-23.10 M54.00 -31.50V-23.10" stroke="#000" stroke-width="1.5" fill="none"/>
<text transform="translate(38.05 -29.70) scale(1.085 1)" font-size="11.5" text-anchor="middle" stroke-width="0.4">31%</text>
</g>
<g transform="translate(264.90 311.60)">
<path d="M0.40 -0.21 L0.90 -0.41 L1.40 -0.78 L1.90 -1.40 L2.40 -2.39 L2.90 -3.90 L3.40 -6.06 L3.90 -8.95 L4.40 -12.58 L4.90 -16.84 L5.40 -21.45 L5.90 -26.01 L6.40 -30.01 L6.90 -32.97 L7.40 -34.46 L7.90 -34.29 L8.40 -32.48 L8.90 -29.28 L9.40 -25.12 L9.90 -20.52 L10.40 -15.95 L10.90 -11.80 L11.40 -8.31 L11.90 -5.57 L12.40 -3.55 L12.90 -2.16 L13.40 -1.25 L13.90 -0.69 L14.40 -0.36" fill="none" stroke="#3a3a3a" stroke-width="0.8"/>
<path d="M0.80 0.00 C0.96 -0.20 1.23 -0.87 2.00 -1.50 C2.77 -2.13 5.29 -3.89 6.60 -4.70 C7.91 -5.51 10.75 -7.05 11.80 -7.60 C12.85 -8.15 13.81 -8.57 14.50 -8.80 C15.19 -9.03 16.27 -9.33 17.00 -9.30 C17.73 -9.27 19.08 -8.87 20.00 -8.60 C20.92 -8.33 22.90 -7.67 23.90 -7.30 C24.90 -6.93 26.58 -6.21 27.50 -5.80 C28.42 -5.39 29.87 -4.71 30.80 -4.20 C31.73 -3.69 33.58 -2.56 34.50 -2.00 C35.42 -1.44 37.27 -0.27 37.70 0.00 L37.70 0 L0.80 0 Z" fill="#000"/>
<rect x="0" y="-43.00" width="58.20" height="43.00" fill="none" stroke="#000" stroke-width="1.4"/>
<path d="M0.70 0.5V2.4 M15.05 0.5V2.4 M29.40 0.5V2.4 M43.75 0.5V2.4 M58.10 0.5V2.4" stroke="#000" stroke-width="0.8" fill="none"/>
<path d="M0 -8.60H2 M0 -17.20H2 M0 -25.80H2 M0 -34.40H2" stroke="#000" stroke-width="0.6" fill="none" opacity="0.7"/>
<path d="M15.20 -27.30H51.60 M15.20 -31.50V-23.10 M51.60 -31.50V-23.10" stroke="#000" stroke-width="1.5" fill="none"/>
<text transform="translate(35.70 -29.70) scale(1.085 1)" font-size="11.5" text-anchor="middle" stroke-width="0.4">50%</text>
</g>
<g transform="translate(345.50 311.60)">
<path d="M0.10 -0.21 L0.60 -0.42 L1.10 -0.79 L1.60 -1.43 L2.10 -2.44 L2.60 -3.98 L3.10 -6.18 L3.60 -9.13 L4.10 -12.84 L4.60 -17.18 L5.10 -21.89 L5.60 -26.53 L6.10 -30.62 L6.60 -33.63 L7.10 -35.16 L7.60 -34.99 L8.10 -33.14 L8.60 -29.87 L9.10 -25.63 L9.60 -20.93 L10.10 -16.27 L10.60 -12.04 L11.10 -8.48 L11.60 -5.68 L12.10 -3.63 L12.60 -2.20 L13.10 -1.27 L13.60 -0.70 L14.10 -0.37" fill="none" stroke="#3a3a3a" stroke-width="0.8"/>
<path d="M0.80 0.00 C1.03 -0.33 1.97 -1.17 2.50 -2.50 C3.03 -3.83 4.25 -8.56 4.80 -10.00 C5.35 -11.44 6.04 -13.17 6.60 -13.30 C7.16 -13.43 8.31 -11.57 9.00 -11.00 C9.69 -10.43 11.13 -9.13 11.80 -9.00 C12.47 -8.87 13.39 -9.77 14.00 -10.00 C14.61 -10.23 15.60 -10.77 16.40 -10.70 C17.20 -10.63 19.07 -9.85 20.00 -9.50 C20.93 -9.15 22.60 -8.57 23.40 -8.10 C24.20 -7.63 25.32 -6.57 26.00 -6.00 C26.68 -5.43 27.83 -4.37 28.50 -3.80 C29.17 -3.23 30.31 -2.21 31.00 -1.70 C31.69 -1.19 33.34 -0.23 33.70 0.00 L33.70 0 L0.80 0 Z" fill="#000"/>
<rect x="0" y="-43.00" width="58.20" height="43.00" fill="none" stroke="#000" stroke-width="1.4"/>
<path d="M0.70 0.5V2.4 M15.05 0.5V2.4 M29.40 0.5V2.4 M43.75 0.5V2.4 M58.10 0.5V2.4" stroke="#000" stroke-width="0.8" fill="none"/>
<path d="M0 -8.60H2 M0 -17.20H2 M0 -25.80H2 M0 -34.40H2" stroke="#000" stroke-width="0.6" fill="none" opacity="0.7"/>
<path d="M17.10 -27.30H53.75 M17.10 -31.50V-23.10 M53.75 -31.50V-23.10" stroke="#000" stroke-width="1.5" fill="none"/>
<text transform="translate(37.72 -29.70) scale(1.085 1)" font-size="11.5" text-anchor="middle" stroke-width="0.4">36%</text>
</g>
<g transform="translate(425.80 311.60)">
<path d="M0.53 -0.22 L1.03 -0.45 L1.53 -0.89 L2.03 -1.65 L2.53 -2.90 L3.03 -4.81 L3.53 -7.55 L4.03 -11.19 L4.53 -15.67 L5.03 -20.73 L5.53 -25.92 L6.03 -30.62 L6.53 -34.18 L7.03 -36.05 L7.53 -35.93 L8.03 -33.83 L8.53 -30.10 L9.03 -25.31 L9.53 -20.11 L10.03 -15.09 L10.53 -10.70 L11.03 -7.17 L11.53 -4.54 L12.03 -2.72 L12.53 -1.54 L13.03 -0.82 L13.53 -0.41" fill="none" stroke="#3a3a3a" stroke-width="0.8"/>
<path d="M0.55 0.00 C0.88 -1.23 2.56 -6.91 3.05 -9.24 C3.54 -11.57 3.87 -15.11 4.25 -17.49 C4.63 -19.87 5.43 -24.99 5.90 -27.06 C6.37 -29.13 7.24 -33.00 7.75 -33.00 C8.26 -33.00 9.26 -29.13 9.75 -27.06 C10.24 -24.99 10.96 -19.87 11.40 -17.49 C11.84 -15.11 12.64 -10.97 13.05 -9.24 C13.46 -7.51 13.74 -5.48 14.50 -4.50 C15.26 -3.52 17.02 -2.50 18.75 -1.90 C20.48 -1.30 26.33 -0.25 27.50 0.00 L27.50 0 L0.55 0 Z" fill="#000"/>
<rect x="0" y="-43.00" width="58.20" height="43.00" fill="none" stroke="#000" stroke-width="1.4"/>
<path d="M0.70 0.5V2.4 M15.05 0.5V2.4 M29.40 0.5V2.4 M43.75 0.5V2.4 M58.10 0.5V2.4" stroke="#000" stroke-width="0.8" fill="none"/>
<path d="M0 -8.60H2 M0 -17.20H2 M0 -25.80H2 M0 -34.40H2" stroke="#000" stroke-width="0.6" fill="none" opacity="0.7"/>
<path d="M16.90 -27.30H53.40 M16.90 -31.50V-23.10 M53.40 -31.50V-23.10" stroke="#000" stroke-width="1.5" fill="none"/>
<text transform="translate(36.65 -29.70) scale(1.085 1)" font-size="11.5" text-anchor="middle" stroke-width="0.4">3%</text>
</g>
<text x="99.15" y="323.9" font-size="9.6"><tspan x="99.15">10</tspan><tspan dy="-3.3" font-size="8">0</tspan></text>
<text x="127.85" y="323.9" font-size="9.6"><tspan x="127.85">10</tspan><tspan dy="-3.3" font-size="8">2</tspan></text>
<text x="156.55" y="323.9" font-size="9.6"><tspan x="156.55">10</tspan><tspan dy="-3.3" font-size="8">4</tspan></text>
<text x="179.10" y="323.9" font-size="9.6"><tspan x="179.10">10</tspan><tspan dy="-3.3" font-size="8">0</tspan></text>
<text x="207.80" y="323.9" font-size="9.6"><tspan x="207.80">10</tspan><tspan dy="-3.3" font-size="8">2</tspan></text>
<text x="236.50" y="323.9" font-size="9.6"><tspan x="236.50">10</tspan><tspan dy="-3.3" font-size="8">4</tspan></text>
<text x="260.30" y="323.9" font-size="9.6"><tspan x="260.30">10</tspan><tspan dy="-3.3" font-size="8">0</tspan></text>
<text x="289.00" y="323.9" font-size="9.6"><tspan x="289.00">10</tspan><tspan dy="-3.3" font-size="8">2</tspan></text>
<text x="317.70" y="323.9" font-size="9.6"><tspan x="317.70">10</tspan><tspan dy="-3.3" font-size="8">4</tspan></text>
<text x="340.90" y="323.9" font-size="9.6"><tspan x="340.90">10</tspan><tspan dy="-3.3" font-size="8">0</tspan></text>
<text x="369.60" y="323.9" font-size="9.6"><tspan x="369.60">10</tspan><tspan dy="-3.3" font-size="8">2</tspan></text>
<text x="398.30" y="323.9" font-size="9.6"><tspan x="398.30">10</tspan><tspan dy="-3.3" font-size="8">4</tspan></text>
<text x="421.20" y="323.9" font-size="9.6"><tspan x="421.20">10</tspan><tspan dy="-3.3" font-size="8">0</tspan></text>
<text x="449.90" y="323.9" font-size="9.6"><tspan x="449.90">10</tspan><tspan dy="-3.3" font-size="8">2</tspan></text>
<text x="478.60" y="323.9" font-size="9.6"><tspan x="478.60">10</tspan><tspan dy="-3.3" font-size="8">4</tspan></text>
</g>
<text x="132.30" y="33" font-size="14.75" text-anchor="middle">CD33</text>
<text x="214.25" y="33" font-size="14.75" text-anchor="middle">CD11a</text>
<text x="293.85" y="33" font-size="14.75" text-anchor="middle">Epo-R</text>
<text x="371.20" y="33" font-size="14.75" text-anchor="middle">E-cadherin</text>
<text x="466.70" y="33" font-size="14.75" text-anchor="middle">Glycophorin A/B</text>
<text x="1.2" y="62.7" font-size="14.75">Control</text>
<text x="1.2" y="122.0" font-size="14.75">Thal</text>
<text x="1.2" y="137.4" font-size="14.75">(10 <tspan font-family="'Liberation Serif', serif">μ</tspan>M)</text>
<text x="1.2" y="177.8" font-size="14.75">CC-4047</text>
<text x="1.2" y="192.8" font-size="14.75">(10 <tspan font-family="'Liberation Serif', serif">μ</tspan>M)</text>
<text x="1.2" y="230.9" font-size="14.75">Thal</text>
<text x="1.2" y="245.9" font-size="14.75">(100 <tspan font-family="'Liberation Serif', serif">μ</tspan>M)</text>
<text x="1.2" y="284.7" font-size="14.75">CC-4047</text>
<text x="1.2" y="299.2" font-size="14.75">(100 <tspan font-family="'Liberation Serif', serif">μ</tspan>M)</text>
<text transform="translate(86.5 191.3) rotate(-90)" font-size="14.6" text-anchor="middle">Cell number</text>
<text x="293.7" y="341.5" font-size="14.75" text-anchor="middle">Fluorescence intensity</text>
<text x="0.5" y="19" font-size="25.7" font-weight="bold">A</text>
<text x="-0.4" y="386" font-size="24.7" font-weight="bold">B</text>
<text x="252.2" y="386" font-size="24.7" font-weight="bold">C</text>
<g id="panelB">
<rect x="48.75" y="399.50" width="168.00" height="167.20" fill="none" stroke="#000" stroke-width="1.7"/>
<path d="M45.35 516.37H48.75 M45.35 486.93H48.75 M45.35 466.04H48.75 M45.35 449.83H48.75 M45.35 436.59H48.75 M45.35 425.40H48.75 M45.35 415.70H48.75 M45.35 407.15H48.75 M42.25 399.50H48.75 M42.25 566.70H48.75 M65.40 566.70V572.30 M99.00 566.70V572.30 M132.60 566.70V572.30 M166.00 566.70V572.30 M199.30 566.70V572.30" stroke="#000" stroke-width="1.5" fill="none"/>
<text x="65.90" y="587.8" font-size="14.1" text-anchor="middle">0</text>
<text x="99.30" y="587.8" font-size="14.1" text-anchor="middle">1</text>
<text x="133.00" y="587.8" font-size="14.1" text-anchor="middle">2</text>
<text x="166.40" y="587.8" font-size="14.1" text-anchor="middle">3</text>
<text x="200.00" y="587.8" font-size="14.1" text-anchor="middle">4</text>
<text x="135.9" y="602.3" font-size="14.75" text-anchor="middle">Days in culture</text>
<text transform="translate(12.2 483) rotate(-90)" font-size="14.5" text-anchor="middle">Cumulative cell numbers</text>
<text x="16.7" y="405.2" font-size="13.8">10<tspan dx="0.9" dy="-4.3" font-size="13.2">7</tspan></text>
<text x="16.6" y="572.9" font-size="13.8">10<tspan dx="0.9" dy="-4.3" font-size="13.2">6</tspan></text>
<polyline points="63.90,487.30 97.80,484.00 131.75,458.00 165.55,459.50 199.50,450.80" fill="none" stroke="#000" stroke-width="1.7" stroke-linejoin="round"/>
<polyline points="63.90,487.30 97.80,479.00 131.75,451.30 165.55,451.50 199.50,443.30" fill="none" stroke="#000" stroke-width="1.7" stroke-linejoin="round"/>
<polyline points="63.90,487.30 97.80,488.00 131.75,452.50 165.55,443.80 199.50,423.80" fill="none" stroke="#000" stroke-width="1.7" stroke-linejoin="round"/>
<polyline points="63.90,487.30 97.80,473.80 131.75,451.30 165.55,434.50 199.50,418.80" fill="none" stroke="#000" stroke-width="1.7" stroke-linejoin="round"/>
<polyline points="63.90,487.30 97.80,481.00 131.75,451.30 165.55,441.50 199.50,432.50" fill="none" stroke="#000" stroke-width="2" stroke-dasharray="5.5 3.5"/>
<rect x="59.95" y="483.35" width="7.9" height="7.9" fill="#fff" stroke="#000" stroke-width="1.7"/>
<rect x="93.85" y="475.05" width="7.9" height="7.9" fill="#fff" stroke="#000" stroke-width="1.7"/>
<rect x="127.80" y="447.35" width="7.9" height="7.9" fill="#fff" stroke="#000" stroke-width="1.7"/>
<rect x="161.60" y="447.55" width="7.9" height="7.9" fill="#fff" stroke="#000" stroke-width="1.7"/>
<rect x="195.55" y="439.35" width="7.9" height="7.9" fill="#fff" stroke="#000" stroke-width="1.7"/>
<rect x="59.20" y="482.60" width="9.4" height="9.4" fill="#000"/>
<rect x="93.10" y="479.30" width="9.4" height="9.4" fill="#000"/>
<rect x="127.05" y="453.30" width="9.4" height="9.4" fill="#000"/>
<rect x="160.85" y="454.80" width="9.4" height="9.4" fill="#000"/>
<rect x="194.80" y="446.10" width="9.4" height="9.4" fill="#000"/>
<circle cx="63.90" cy="487.30" r="4.8" fill="#000"/>
<circle cx="97.80" cy="488.00" r="4.8" fill="#000"/>
<circle cx="131.75" cy="452.50" r="4.8" fill="#000"/>
<circle cx="165.55" cy="443.80" r="4.8" fill="#000"/>
<circle cx="199.50" cy="423.80" r="4.8" fill="#000"/>
<circle cx="63.90" cy="487.30" r="3.9" fill="#fff" stroke="#000" stroke-width="1.6"/>
<circle cx="97.80" cy="473.80" r="3.9" fill="#fff" stroke="#000" stroke-width="1.6"/>
<circle cx="131.75" cy="451.30" r="3.9" fill="#fff" stroke="#000" stroke-width="1.6"/>
<circle cx="165.55" cy="434.50" r="3.9" fill="#fff" stroke="#000" stroke-width="1.6"/>
<circle cx="199.50" cy="418.80" r="3.9" fill="#fff" stroke="#000" stroke-width="1.6"/>
<path d="M60.10 483.50L67.70 491.10M60.10 491.10L67.70 483.50" stroke="#000" stroke-width="1.5"/>
<path d="M94.00 477.20L101.60 484.80M94.00 484.80L101.60 477.20" stroke="#000" stroke-width="1.5"/>
<path d="M127.95 447.50L135.55 455.10M127.95 455.10L135.55 447.50" stroke="#000" stroke-width="1.5"/>
<path d="M161.75 437.70L169.35 445.30M161.75 445.30L169.35 437.70" stroke="#000" stroke-width="1.5"/>
<path d="M195.70 428.70L203.30 436.30M195.70 436.30L203.30 428.70" stroke="#000" stroke-width="1.5"/>
</g>
<g id="panelC">
<defs><pattern id="hatch" width="2.6" height="2.6" patternUnits="userSpaceOnUse" patternTransform="rotate(-50)"><rect width="2.6" height="2.6" fill="#fff"/><rect width="2.6" height="0.85" fill="#000"/></pattern></defs>
<rect x="307.50" y="426.20" width="23.00" height="33.67" fill="#fff"/>
<rect x="307.50" y="459.87" width="23.00" height="18.94" fill="url(#hatch)"/>
<rect x="307.50" y="478.81" width="23.00" height="87.69" fill="#000"/>
<path d="M307.50 459.87H330.50" stroke="#000" stroke-width="1.1"/>
<rect x="307.80" y="426.20" width="22.40" height="140.30" fill="none" stroke="#000" stroke-width="1.4"/>
<rect x="341.25" y="426.20" width="23.00" height="22.45" fill="#fff"/>
<rect x="341.25" y="448.65" width="23.00" height="13.33" fill="url(#hatch)"/>
<rect x="341.25" y="461.98" width="23.00" height="104.52" fill="#000"/>
<path d="M341.25 448.65H364.25" stroke="#000" stroke-width="1.1"/>
<rect x="341.55" y="426.20" width="22.40" height="140.30" fill="none" stroke="#000" stroke-width="1.4"/>
<rect x="375.00" y="426.20" width="23.00" height="21.05" fill="#fff"/>
<rect x="375.00" y="447.25" width="23.00" height="22.45" fill="url(#hatch)"/>
<rect x="375.00" y="469.69" width="23.00" height="96.81" fill="#000"/>
<path d="M375.00 447.25H398.00" stroke="#000" stroke-width="1.1"/>
<rect x="375.30" y="426.20" width="22.40" height="140.30" fill="none" stroke="#000" stroke-width="1.4"/>
<rect x="408.75" y="426.20" width="23.00" height="15.43" fill="#fff"/>
<rect x="408.75" y="441.63" width="23.00" height="15.43" fill="url(#hatch)"/>
<rect x="408.75" y="457.07" width="23.00" height="109.43" fill="#000"/>
<path d="M408.75 441.63H431.75" stroke="#000" stroke-width="1.1"/>
<rect x="409.05" y="426.20" width="22.40" height="140.30" fill="none" stroke="#000" stroke-width="1.4"/>
<rect x="442.60" y="426.20" width="23.00" height="22.45" fill="#fff"/>
<rect x="442.60" y="448.65" width="23.00" height="18.94" fill="url(#hatch)"/>
<rect x="442.60" y="467.59" width="23.00" height="98.91" fill="#000"/>
<path d="M442.60 448.65H465.60" stroke="#000" stroke-width="1.1"/>
<rect x="442.90" y="426.20" width="22.40" height="140.30" fill="none" stroke="#000" stroke-width="1.4"/>
<rect x="302.50" y="398.00" width="169.50" height="168.50" fill="none" stroke="#000" stroke-width="1.7"/>
<text x="293.4" y="571.50" font-size="14.1" text-anchor="end">0</text>
<text x="293.4" y="536.42" font-size="14.1" text-anchor="end">25</text>
<text x="293.4" y="501.35" font-size="14.1" text-anchor="end">50</text>
<text x="293.4" y="466.27" font-size="14.1" text-anchor="end">75</text>
<text x="293.4" y="431.20" font-size="14.1" text-anchor="end">100</text>
<path d="M296.00 566.50H302.50 M296.00 531.42H302.50 M296.00 496.35H302.50 M296.00 461.27H302.50 M296.00 426.20H302.50" stroke="#000" stroke-width="1.4" fill="none"/>
<text transform="translate(263.0 493.3) rotate(-90)" font-size="14.6" text-anchor="middle">Percentage</text>
<text x="317.40" y="589.1" font-size="14.1" text-anchor="middle">0</text>
<text x="352.30" y="589.1" font-size="14.1" text-anchor="middle">10</text>
<text x="388.00" y="589.1" font-size="14.1" text-anchor="middle">100</text>
<text x="420.00" y="589.1" font-size="14.1" text-anchor="middle">10</text>
<text x="454.80" y="589.1" font-size="14.1" text-anchor="middle">100</text>
<text x="471.0" y="589.1" font-size="14.75"><tspan font-family="'Liberation Serif', serif" font-size="15.5">μ</tspan><tspan dx="0.6">M</tspan></text>
<path d="M343.9 594.3H401.6 M412.7 594.3H470.4" stroke="#000" stroke-width="1.4"/>
<text x="368.9" y="608.9" font-size="14.75" text-anchor="middle">Thal</text>
<text x="440" y="608.9" font-size="14.75" text-anchor="middle">CC-4047</text>
</g>
</svg>
</body></html>
